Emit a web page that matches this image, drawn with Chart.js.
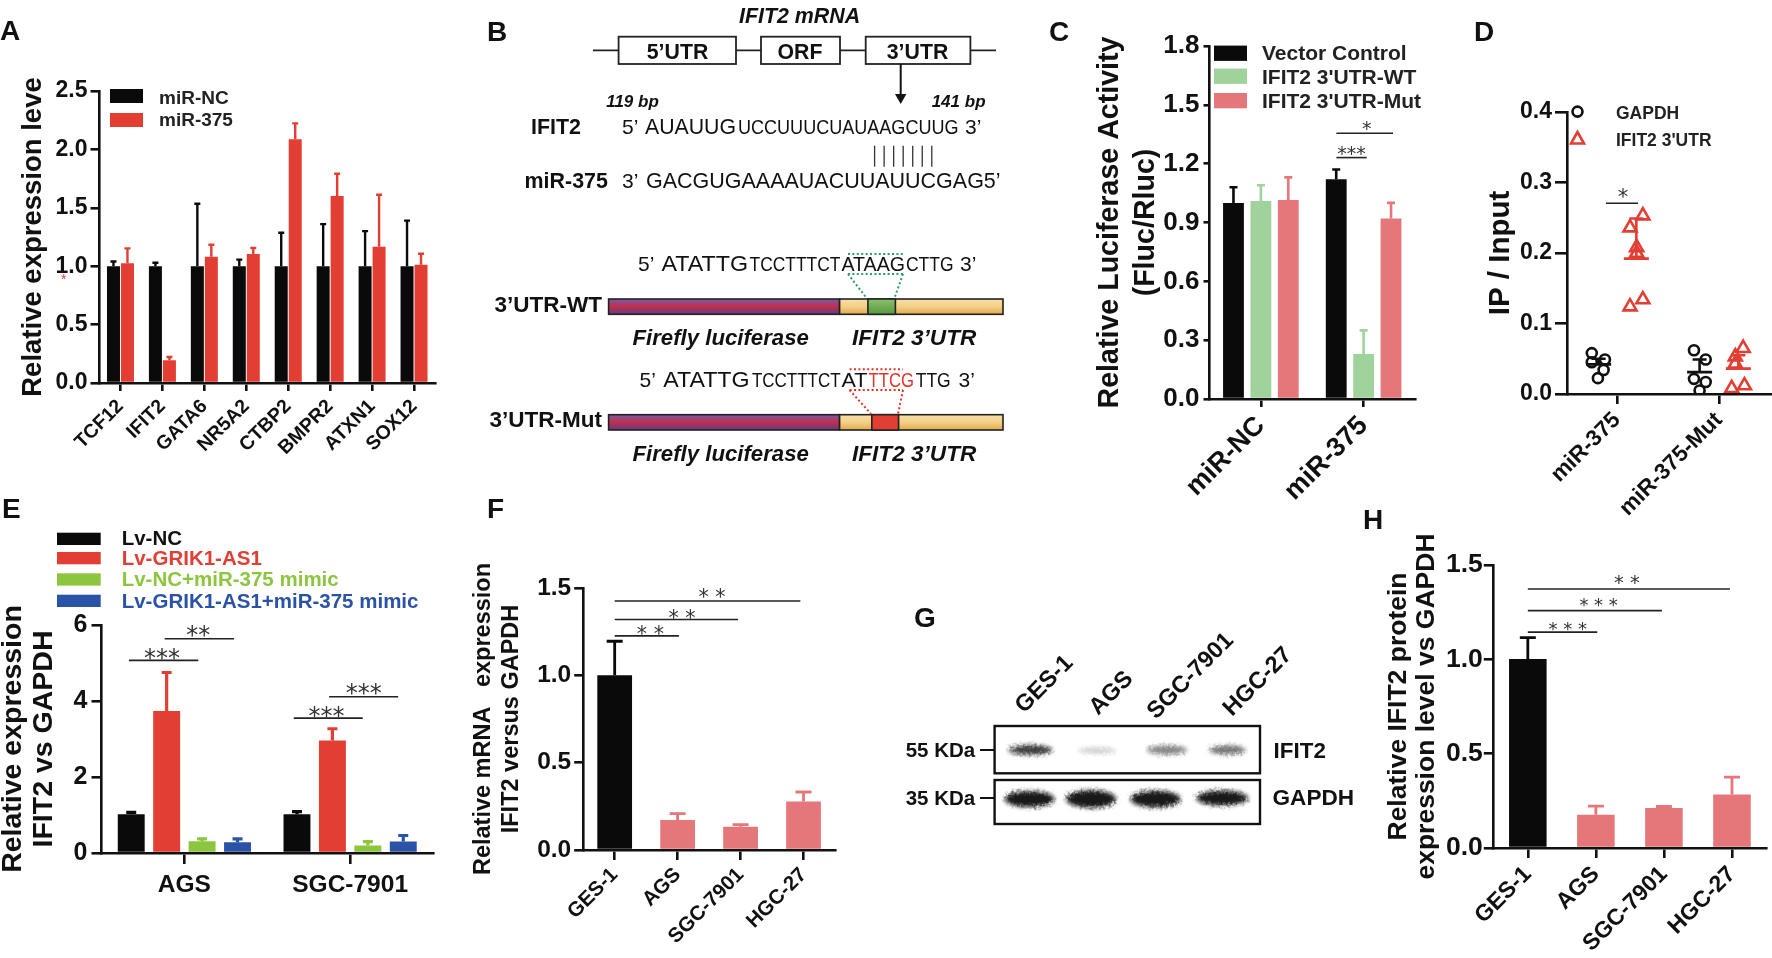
<!DOCTYPE html>
<html>
<head>
<meta charset="utf-8">
<title>IFIT2 / miR-375 figure</title>
<script src="https://cdn.jsdelivr.net/npm/chart.js@4/dist/chart.umd.min.js"></script>
<style>
  html, body { margin: 0; padding: 0; background: #fff; width: 1772px; height: 958px; overflow: hidden; }
  canvas { position: absolute; }
  #art { position: absolute; left: 0; top: 0; width: 1772px; height: 958px; pointer-events: none; }
  #art text { font-family: "Liberation Sans", Arial, sans-serif; fill: #111; }
</style>
</head>
<body>
<canvas id="chartA"></canvas>
<canvas id="chartC"></canvas>
<canvas id="chartD"></canvas>
<canvas id="chartE"></canvas>
<canvas id="chartF"></canvas>
<canvas id="chartH"></canvas>
<svg id="art" xmlns="http://www.w3.org/2000/svg" viewBox="0 0 1772 958">
  <defs>
    <linearGradient id="gPurple" x1="0" y1="0" x2="0" y2="1">
      <stop offset="0" stop-color="#7a5aa6"/><stop offset="0.5" stop-color="#c22f4c"/><stop offset="1" stop-color="#5f3a86"/>
    </linearGradient>
    <linearGradient id="gYellow" x1="0" y1="0" x2="0" y2="1">
      <stop offset="0" stop-color="#f8dfa6"/><stop offset="0.5" stop-color="#f3cf88"/><stop offset="1" stop-color="#e3a94c"/>
    </linearGradient>
    <linearGradient id="gGreen" x1="0" y1="0" x2="0" y2="1">
      <stop offset="0" stop-color="#8cc06a"/><stop offset="1" stop-color="#55993f"/>
    </linearGradient>
    <filter id="blot" x="-30%" y="-80%" width="160%" height="260%">
      <feGaussianBlur stdDeviation="2" result="soft"/>
      <feTurbulence type="fractalNoise" baseFrequency="0.35" numOctaves="2" seed="4" result="grain"/>
      <feDisplacementMap in="soft" in2="grain" scale="5"/>
    </filter>
  </defs>
</svg>

<script>
// Panel A
const aCategories = ['TCF12', 'IFIT2', 'GATA6', 'NR5A2', 'CTBP2', 'BMPR2', 'ATXN1', 'SOX12'];
const aNC = [1.0, 1.0, 1.0, 1.0, 1.0, 1.0, 1.0, 1.0];
const aNCTop = [1.04, 1.03, 1.535, 1.056, 1.287, 1.36, 1.3, 1.39];
const a375 = [1.025, 0.194, 1.08, 1.105, 2.086, 1.6, 1.167, 1.013];
const a375Top = [1.153, 0.223, 1.184, 1.156, 2.223, 1.792, 1.612, 1.107];
const aTicks = [0, 0.5, 1, 1.5, 2, 2.5];

// Panel C
const cCategories = ['miR-NC', 'miR-375'];
const cVector = [1.0, 1.12];
const cVectorTop = [1.08, 1.17];
const cWT = [1.01, 0.23];
const cWTTop = [1.09, 0.35];
const cMut = [1.015, 0.92];
const cMutTop = [1.13, 1.0];
const cTicks = [0, 0.3, 0.6, 0.9, 1.2, 1.5, 1.8];

// Panel D, x is in group units (0 = miR-375, 1 = miR-375-Mut)
const dCategories = ['miR-375', 'miR-375-Mut'];
const dGapdhX = [-0.247, -0.118, -0.247, -0.131, -0.187, 0.755, 0.87, 0.87, 0.755, 0.81];
const dGapdhY = [0.058, 0.049, 0.045, 0.034, 0.0225, 0.062, 0.049, 0.017, 0.0215, 0.005];
const dUtrX = [0.254, 0.128, 0.193, 0.193, 0.254, 0.128, 1.237, 1.16, 1.16, 1.25, 1.125];
const dUtrY = [0.253, 0.236, 0.208, 0.2, 0.134, 0.124, 0.065, 0.053, 0.043, 0.012, 0.008];
const dMeanX = [-0.18, 0.19, 0.81, 1.19];
const dMean = [0.042, 0.192, 0.031, 0.036];
const dMeanTop = [0.05, 0.249, 0.049, 0.055];
const dMeanColors = ['#111', '#e23e33', '#111', '#e23e33'];
const dTicks = [0, 0.1, 0.2, 0.3, 0.4];

// Panel E
const eCategories = ['AGS', 'SGC-7901'];
const eNC = [1.02, 1.02];
const eNCTop = [1.07, 1.09];
const eAS1 = [3.74, 2.96];
const eAS1Top = [4.75, 3.27];
const eMimic = [0.31, 0.2];
const eMimicTop = [0.37, 0.3];
const eBoth = [0.28, 0.3];
const eBothTop = [0.37, 0.46];
const eTicks = [0, 2, 4, 6];

// Panels F and H
const lineCategories = ['GES-1', 'AGS', 'SGC-7901', 'HGC-27'];
const fValues = [1.0, 0.172, 0.133, 0.278];
const fTops = [1.195, 0.208, 0.145, 0.332];
const hValues = [1.002, 0.176, 0.212, 0.284];
const hTops = [1.115, 0.222, 0.22, 0.376];
const fhTicks = [0, 0.5, 1, 1.5];

const BLACK = '#0a0a0a', RED = '#e23e33', GREEN = '#9fd39b', PINK = '#e5767a', LIME = '#8cc63f', BLUE = '#2a53a8';
const SANS = '"Liberation Sans", Arial, sans-serif';

// error bars go from the bar top up to dataset.tops
const errorBars = {
  id: 'errorBars',
  afterDatasetsDraw(chart) {
    const ctx = chart.ctx, y = chart.scales.y;
    chart.data.datasets.forEach((ds, i) => {
      chart.getDatasetMeta(i).data.forEach((bar, j) => {
        const top = y.getPixelForValue(ds.tops[j]);
        ctx.save();
        ctx.strokeStyle = Array.isArray(ds.backgroundColor) ? ds.backgroundColor[j] : ds.backgroundColor;
        ctx.lineWidth = ds.errWidth;
        ctx.beginPath();
        ctx.moveTo(bar.x, y.getPixelForValue(ds.data[j]));
        ctx.lineTo(bar.x, top);
        ctx.moveTo(bar.x - ds.capHalf, top);
        ctx.lineTo(bar.x + ds.capHalf, top);
        ctx.stroke();
        ctx.restore();
      });
    });
  }
};

// significance lines with their stars
function sigLines(list) {
  return {
    id: 'sigLines',
    afterDatasetsDraw(chart) {
      const ctx = chart.ctx, sx = chart.scales.x, sy = chart.scales.y;
      list.forEach(s => {
        const yPx = sy.getPixelForValue(s.y);
        ctx.save();
        ctx.strokeStyle = '#222';
        ctx.lineWidth = 1.6;
        ctx.beginPath();
        ctx.moveTo(sx.getPixelForValue(s.from), yPx);
        ctx.lineTo(sx.getPixelForValue(s.to), yPx);
        ctx.stroke();
        ctx.fillStyle = '#333';
        ctx.font = s.size + 'px "DejaVu Sans"';
        ctx.textAlign = 'center';
        ctx.textBaseline = 'alphabetic';
        ctx.fillText(s.label, sx.getPixelForValue(s.at), yPx - s.lift + s.size * 0.5);
        ctx.restore();
      });
    }
  };
}

// mean line and upper error bar of the scatter groups in D
const meanLines = {
  id: 'meanLines',
  afterDatasetsDraw(chart) {
    const ctx = chart.ctx, sx = chart.scales.x, sy = chart.scales.y;
    dMeanX.forEach((x, i) => {
      const xPx = sx.getPixelForValue(x), m = sy.getPixelForValue(dMean[i]), t = sy.getPixelForValue(dMeanTop[i]);
      ctx.save();
      ctx.strokeStyle = dMeanColors[i];
      ctx.lineWidth = 2.6;
      ctx.beginPath();
      ctx.moveTo(xPx - 12.5, m); ctx.lineTo(xPx + 12.5, m);
      ctx.moveTo(xPx, m); ctx.lineTo(xPx, t);
      ctx.moveTo(xPx - 7, t); ctx.lineTo(xPx + 7, t);
      ctx.stroke();
      ctx.restore();
    });
  }
};

// axes shared by all panels; the plot box is pinned with afterFit so it lands where it should
function axes(p) {
  const x = Object.assign({
    offset: p.linearX ? false : true,
    border: { color: '#111', width: 2.6, z: 1 },
    grid: { offset: false, drawOnChartArea: false, color: '#111', lineWidth: 2.6, tickLength: p.xTick, tickColor: '#111' },
    ticks: {
      color: '#111', padding: p.xPad, autoSkip: false, maxRotation: p.rotate, minRotation: p.rotate,
      font: { family: SANS, size: p.xSize, weight: 'bold' }
    },
    afterFit(scale) { scale.height = p.bottomRoom; }
  }, p.xExtra || {});
  if (p.xFmt) x.ticks.callback = p.xFmt;
  return {
    x: x,
    y: {
      min: p.ticks[0],
      max: p.ticks[p.ticks.length - 1],
      border: { color: '#111', width: 2.6, z: 1 },
      grid: { drawOnChartArea: false, color: '#111', lineWidth: 2.6, tickLength: p.yTick, tickColor: '#111' },
      ticks: {
        color: '#111', padding: p.yPad, callback: p.fmt,
        font: { family: SANS, size: p.ySize, weight: 'bold' }
      },
      afterBuildTicks(scale) { scale.ticks = p.ticks.map(v => ({ value: v })); },
      afterFit(scale) { scale.width = p.left - p.canvasLeft; },
      title: {
        display: true, text: p.title, color: '#111', padding: 0,
        font: { family: SANS, size: p.titleSize, weight: 'bold', lineHeight: p.titleLine }
      }
    }
  };
}

function panel(id, p, data, plugins, type) {
  const canvas = document.getElementById(id);
  const topRoom = 40, rightRoom = 8;
  p.bottomRoom = p.bottomRoom || 110;
  canvas.width = p.right + rightRoom - p.canvasLeft;
  canvas.height = p.bottom - p.top + topRoom + p.bottomRoom;
  canvas.style.left = p.canvasLeft + 'px';
  canvas.style.top = (p.top - topRoom) + 'px';
  return new Chart(canvas, {
    type: type || 'bar',
    data: data,
    plugins: plugins,
    options: {
      responsive: false,
      animation: false,
      layout: { autoPadding: false, padding: { top: topRoom, right: rightRoom, left: 0, bottom: 0 } },
      plugins: { legend: { display: false }, tooltip: { enabled: false } },
      scales: axes(p)
    }
  });
}

function barSet(values, tops, color, errWidth, capHalf, cat, bar) {
  return {
    data: values, tops: tops, backgroundColor: color, errWidth: errWidth, capHalf: capHalf,
    categoryPercentage: cat, barPercentage: bar
  };
}

const oneDec = v => v.toFixed(1);

panel('chartA', {
  canvasLeft: 18, left: 99.5, right: 435, top: 90.7, bottom: 382.7,
  ticks: aTicks, fmt: oneDec, ySize: 23, yTick: 9, yPad: 3, xSize: 19.5, xTick: 8, xPad: 4, rotate: 45,
  title: 'Relative expression leve', titleSize: 27.5, titleLine: 1.09
}, {
  labels: aCategories,
  datasets: [
    barSet(aNC, aNCTop, BLACK, 2.4, 3, 0.667, 0.93),
    barSet(a375, a375Top, RED, 2.4, 3, 0.667, 0.93)
  ]
}, [errorBars]);

panel('chartC', {
  canvasLeft: 1092, left: 1209.5, right: 1415.5, top: 45.6, bottom: 398.9,
  ticks: cTicks, fmt: oneDec, ySize: 26, yTick: 6, yPad: 4, xSize: 27, xTick: 8, xPad: 3, rotate: 45,
  title: ['Relative Luciferase Activity', '(Fluc/Rluc)'], titleSize: 28.6, titleLine: 1.26
}, {
  labels: cCategories,
  datasets: [
    barSet(cVector, cVectorTop, BLACK, 2.6, 4, 0.8, 0.76),
    barSet(cWT, cWTTop, GREEN, 2.6, 4, 0.8, 0.76),
    barSet(cMut, cMutTop, PINK, 2.6, 4, 0.8, 0.76)
  ]
}, [errorBars, sigLines([
  { from: 0.735, to: 1.286, y: 1.355, label: '*', size: 19, at: 1.03, lift: 8 },
  { from: 0.735, to: 1.03, y: 1.231, label: '***', size: 19, at: 0.883, lift: 7 }
])]);

panel('chartD', {
  canvasLeft: 1486, left: 1567, right: 1772, top: 111.6, bottom: 393.8, bottomRoom: 150,
  ticks: dTicks, fmt: oneDec, ySize: 23, yTick: 12, yPad: 3, xSize: 22.5, xTick: 10, xPad: 3, rotate: 45,
  title: 'IP / Input', titleSize: 29.5, titleLine: 1.02, linearX: true,
  xFmt: v => dCategories[v],
  xExtra: {
    type: 'linear', min: -0.49, max: 1.52,
    afterBuildTicks(scale) { scale.ticks = dCategories.map((c, i) => ({ value: i })); }
  }
}, {
  datasets: [
    {
      data: dGapdhX.map((x, i) => ({ x: x, y: dGapdhY[i] })), pointStyle: 'circle', pointRadius: 5,
      pointBorderWidth: 2.6, pointBorderColor: '#111', pointBackgroundColor: 'rgba(0,0,0,0)', showLine: false
    },
    {
      data: dUtrX.map((x, i) => ({ x: x, y: dUtrY[i] })), pointStyle: 'triangle', pointRadius: 7.5,
      pointBorderWidth: 2.6, pointBorderColor: RED, pointBackgroundColor: 'rgba(0,0,0,0)', showLine: false
    }
  ]
}, [meanLines, sigLines([
  { from: -0.108, to: 0.206, y: 0.2705, label: '*', size: 21, at: 0.059, lift: 9.3 }
])], 'scatter');

panel('chartE', {
  canvasLeft: -2.5, left: 101, right: 432.5, top: 625, bottom: 853.3,
  ticks: eTicks, fmt: v => String(v), ySize: 25, yTick: 10, yPad: 4, xSize: 24.5, xTick: 11, xPad: 7, rotate: 0,
  bottomRoom: 60, title: ['Relative expression', 'IFIT2 vs GAPDH'], titleSize: 28.5, titleLine: 1.09
}, {
  labels: eCategories,
  datasets: [
    barSet(eNC, eNCTop, BLACK, 3.2, 5, 0.855, 0.76),
    barSet(eAS1, eAS1Top, RED, 3.2, 5, 0.855, 0.76),
    barSet(eMimic, eMimicTop, LIME, 3.2, 5, 0.855, 0.76),
    barSet(eBoth, eBothTop, BLUE, 3.2, 5, 0.855, 0.76)
  ]
}, [errorBars, sigLines([
  { from: -0.334, to: 0.084, y: 5.07, label: '***', size: 24, at: -0.135, lift: 6.3 },
  { from: -0.119, to: 0.3, y: 5.64, label: '**', size: 24, at: 0.084, lift: 8 },
  { from: 0.66, to: 1.076, y: 3.55, label: '***', size: 24, at: 0.857, lift: 6.6 },
  { from: 0.873, to: 1.29, y: 4.11, label: '***', size: 24, at: 1.082, lift: 8.3 }
])]);

panel('chartF', {
  canvasLeft: 469.6, left: 582.8, right: 834.8, top: 588.3, bottom: 850.7,
  ticks: fhTicks, fmt: oneDec, ySize: 24.5, yTick: 9, yPad: 3, xSize: 20.5, xTick: 10, xPad: 3, rotate: 45,
  title: ['Relative mRNA   expression', 'IFIT2 versus GAPDH'], titleSize: 23.5, titleLine: 1.166
}, {
  labels: lineCategories,
  datasets: [barSet(fValues, fTops, [BLACK, PINK, PINK, PINK], 2.8, 8, 0.92, 0.6)]
}, [errorBars, sigLines([
  { from: 0, to: 2.95, y: 1.426, label: '* *', size: 20.5, at: 1.545, lift: 7.3 },
  { from: 0, to: 1.96, y: 1.32, label: '* *', size: 20.5, at: 1.07, lift: 4.7 },
  { from: 0, to: 1.02, y: 1.226, label: '* *', size: 20.5, at: 0.567, lift: 5.3 }
])]);

panel('chartH', {
  canvasLeft: 1385, left: 1493.8, right: 1766, top: 565, bottom: 848.3,
  ticks: fhTicks, fmt: oneDec, ySize: 26.5, yTick: 10, yPad: 1, xSize: 23, xTick: 10, xPad: 3, rotate: 45,
  title: ['Relative IFIT2 protein', 'expression level vs GAPDH'], titleSize: 26.5, titleLine: 1.057
}, {
  labels: lineCategories,
  datasets: [barSet(hValues, hTops, [BLACK, PINK, PINK, PINK], 2.8, 8, 0.92, 0.6)]
}, [errorBars, sigLines([
  { from: 0, to: 2.97, y: 1.373, label: '* *', size: 19.5, at: 1.455, lift: 10 },
  { from: 0, to: 1.97, y: 1.258, label: '* * *', size: 18, at: 1.04, lift: 9 },
  { from: 0, to: 1.02, y: 1.144, label: '* * *', size: 18, at: 0.586, lift: 6.3 }
])]);

// ---- everything that is not a chart: letters, legends, panels B and G
const art = document.getElementById('art');
const SVGNS = 'http://www.w3.org/2000/svg';

function el(name, attrs) {
  const n = document.createElementNS(SVGNS, name);
  Object.keys(attrs).forEach(k => n.setAttribute(k, attrs[k]));
  art.appendChild(n);
  return n;
}
function txt(s, x, y, size, o) {
  o = o || {};
  const a = { x: x, y: y, 'font-size': size };
  if (o.bold) a['font-weight'] = 'bold';
  if (o.italic) a['font-style'] = 'italic';
  if (o.anchor) a['text-anchor'] = o.anchor;
  if (o.fit) { a.textLength = o.fit; a.lengthAdjust = 'spacingAndGlyphs'; }
  if (o.rot) a.transform = 'rotate(' + o.rot + ' ' + x + ' ' + y + ')';
  const n = el('text', a);
  if (o.color) n.style.fill = o.color;
  n.textContent = s;
  return n;
}
function rect(x, y, w, h, fill, stroke, sw) {
  return el('rect', { x: x, y: y, width: w, height: h, fill: fill, stroke: stroke || 'none', 'stroke-width': sw || 0 });
}
function line(x1, y1, x2, y2, color, w, dash) {
  const a = { x1: x1, y1: y1, x2: x2, y2: y2, stroke: color, 'stroke-width': w };
  if (dash) a['stroke-dasharray'] = dash;
  return el('line', a);
}

// panel letters
[['A', 0, 40], ['B', 487, 40.5], ['C', 1049, 40.6], ['D', 1474, 40.6], ['E', 2, 518], ['F', 487, 518], ['G', 914, 627], ['H', 1363, 529]]
  .forEach(l => txt(l[0], l[1], l[2], 28, { bold: true }));
txt('*', 61, 284, 14, { color: RED });

// legends
rect(110, 89, 33, 14, BLACK); rect(110, 113, 33, 14, RED);
txt('miR-NC', 159, 104, 19, { bold: true, color: '#222' });
txt('miR-375', 159, 126, 19, { bold: true, color: '#222' });

[['Vector Control', BLACK, 45.6, 60], ["IFIT2 3'UTR-WT", GREEN, 68.6, 83.5], ["IFIT2 3'UTR-Mut", PINK, 93, 107.5]].forEach(l => {
  rect(1214, l[2], 33, 15.3, l[1]);
  txt(l[0], 1262, l[3], 21, { bold: true, color: '#222' });
});

el('circle', { cx: 1577.5, cy: 111.6, r: 5, fill: 'none', stroke: '#111', 'stroke-width': 2.6 });
el('path', { d: 'M1577.5 132 L1584 143.5 L1571 143.5 Z', fill: 'none', stroke: RED, 'stroke-width': 2.6 });
txt('GAPDH', 1616, 118.5, 17.5, { bold: true, color: '#222' });
txt("IFIT2 3'UTR", 1616, 145.5, 17.5, { bold: true, color: '#222' });

[['Lv-NC', BLACK, 532.7, '#111', 545], ['Lv-GRIK1-AS1', RED, 552, RED, 565], ['Lv-NC+miR-375 mimic', LIME, 573.3, LIME, 586], ['Lv-GRIK1-AS1+miR-375 mimic', BLUE, 594.7, BLUE, 608]].forEach(l => {
  rect(57, l[2], 43.7, 12.3, l[1]);
  txt(l[0], 121.7, l[4], 20.5, { bold: true, color: l[3] });
});

// panel B, mRNA scheme
txt('IFIT2 mRNA', 799.6, 23, 21.4, { bold: true, italic: true, anchor: 'middle' });
line(593, 50.3, 996, 50.3, '#222', 1.8);
[[618.6, 117.4, '5’UTR', 677.5], [761, 79, 'ORF', 800], [865.7, 104.7, '3’UTR', 917.5]].forEach(b => {
  rect(b[0], 36.7, b[1], 27.3, '#fff', '#222', 1.8);
  txt(b[2], b[3], 59.3, 21.3, { bold: true, anchor: 'middle' });
});
line(900.7, 64, 900.7, 96, '#111', 2);
el('path', { d: 'M895 94 L906.4 94 L900.7 104 Z', fill: '#111' });
txt('119 bp', 632.5, 107, 17, { bold: true, italic: true, anchor: 'middle' });
txt('141 bp', 958.6, 107, 17, { bold: true, italic: true, anchor: 'middle' });

txt('IFIT2', 531, 134, 21.4, { bold: true });
txt('5’', 622, 134, 21);
txt('AUAUUG', 645, 134, 22, { fit: 91 });
txt('UCCUUUCUAUAAGCUUG', 738, 134, 20, { fit: 220.5 });
txt('3’', 965, 134, 21);
for (let i = 0; i < 7; i++) line(874.6 + i * 9.53, 145.7, 874.6 + i * 9.53, 166.7, '#333', 1.3);
txt('miR-375', 524.6, 188.3, 21.4, { bold: true });
txt('3’', 622, 188.3, 21);
txt('GACGUGAAAAUACUUAUUCGAG5’', 646, 188.3, 22, { fit: 354.6 });

// luciferase constructs
function construct(y, label, midFill, midX, midW) {
  rect(608.6, y, 231, 15.3, 'url(#gPurple)', '#222', 1.6);
  rect(839.6, y, 163.4, 15.3, 'url(#gYellow)', '#222', 1.6);
  rect(midX, y, midW, 15.3, midFill, '#222', 1.6);
  txt(label, 602, y + 12.7, 22.5, { bold: true, anchor: 'end' });
  txt('Firefly luciferase', 632.5, y + 46, 22.2, { bold: true, italic: true });
  txt('IFIT2 3’UTR', 852, y + 46, 22.6, { bold: true, italic: true });
}
function dotted(color, x1, x2, yTop, yBot, bx1, bx2, barY) {
  const d = '2 2.4';
  line(x1, yTop, x2, yTop, color, 2, d);
  line(x1, yBot, x2, yBot, color, 2, d);
  line(x1, yBot, bx1, barY, color, 2, d);
  line(x2, yBot, bx2, barY, color, 2, d);
}

construct(299, '3’UTR-WT', 'url(#gGreen)', 867.9, 27.5);
txt('5’', 638, 270.7, 21);
txt('ATATTG', 661.5, 270.7, 22, { fit: 86.5 });
txt('TCCTTTCT', 749.5, 270.7, 20, { fit: 91 });
txt('ATAAG', 841.5, 270.7, 21, { fit: 63.5 });
txt('CTTG', 906, 270.7, 20, { fit: 47.5 });
txt('3’', 960, 270.7, 21);
dotted('#2e9e63', 848, 903, 254, 274, 866.5, 894.5, 298);

construct(414.7, '3’UTR-Mut', RED, 871.8, 26.8);
txt('5’', 639.6, 386.7, 21);
txt('ATATTG', 663.2, 386.7, 22, { fit: 86.4 });
txt('TCCTTTCT', 752, 386.7, 20, { fit: 88.5 });
txt('AT', 841.5, 386.7, 21, { fit: 26 });
txt('TTCG', 868.5, 386.7, 21, { fit: 45.5, color: '#e2342b' });
txt('TTG', 915.7, 386.7, 20, { fit: 35 });
txt('3’', 958.6, 386.7, 21);
dotted('#e2342b', 849.6, 903, 369.3, 390, 871, 898, 414);

// panel G, western blot
[['GES-1', 1024, 714], ['AGS', 1098, 716], ['SGC-7901', 1156, 720], ['HGC-27', 1232, 717]].forEach(l =>
  txt(l[0], l[1], l[2], 23.5, { bold: true, rot: -45 }));
rect(994.6, 726, 265.4, 47.3, '#fff', '#111', 2.4);
rect(994.6, 780, 265.4, 44, '#fff', '#111', 2.4);
[[1030.6, 750, 22, 5, 0.8], [1097, 750.5, 19, 3, 0.2], [1167, 750, 20, 4.5, 0.5], [1227.5, 750, 18, 4.5, 0.58],
 [1029.5, 799, 25, 8, 0.95], [1091, 799, 25, 9, 0.95], [1155.5, 799, 25, 8.5, 0.95], [1222, 798, 26, 7.5, 0.95]].forEach(b =>
  el('ellipse', { cx: b[0], cy: b[1], rx: b[2], ry: b[3], fill: '#111', opacity: b[4], filter: 'url(#blot)' }));
txt('55 KDa', 905.7, 757, 20.5, { bold: true });
txt('35 KDa', 905.7, 805, 20.5, { bold: true });
line(980, 750, 994.6, 750, '#111', 2);
line(980, 798, 994.6, 798, '#111', 2);
txt('IFIT2', 1273.6, 758, 22.4, { bold: true });
txt('GAPDH', 1272.5, 805, 22.6, { bold: true });
</script>
</body>
</html>
